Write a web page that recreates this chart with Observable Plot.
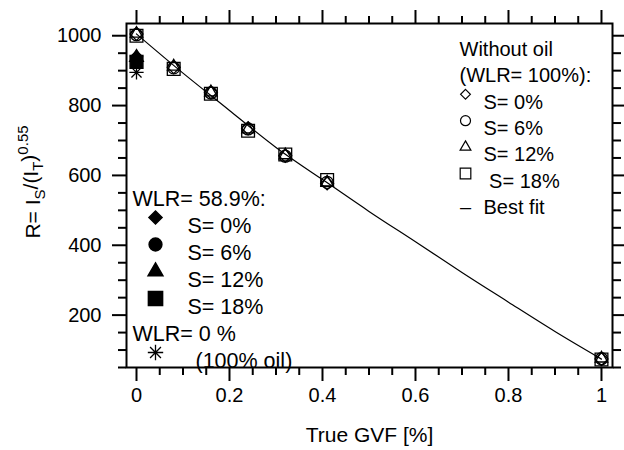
<!DOCTYPE html>
<html><head><meta charset="utf-8">
<script src="https://cdn.jsdelivr.net/npm/d3@7"></script>
<script src="https://cdn.jsdelivr.net/npm/@observablehq/plot@0.6"></script>
<style>
body{margin:0;background:#fff;}
svg{font-family:"Liberation Sans",Arial,sans-serif;}
</style>
</head><body><div id="chart"></div>
<script>
// ---- data ----
const gvf   = [0, 0.08, 0.16, 0.24, 0.32, 0.41, 1];
const rS0   = [1005, 910, 838, 735, 656, 577, 74];   // diamonds
const rS6   = [1003, 908, 836, 733, 655, 580, 75];   // circles
const rS12  = [1006, 912, 838, 732, 658, 580, 76];   // triangles
const rS18  = [1000, 905, 834, 728, 660, 587, 73];   // squares
const wlr589Gvf = [0, 0, 0, 0];
const wlr589R   = [940, 932, 938, 925];              // S=0,6,12,18 %
const oilGvf = [0];
const oilR   = [895];
const fitGvf = [0, 0.1, 0.2, 0.3, 0.4, 0.5, 0.6, 0.7, 0.8, 0.9, 1];
const fitR   = [1005, 893, 786, 680, 588, 497, 410, 322, 237, 153, 74];
const xTicks = [0, 0.2, 0.4, 0.6, 0.8, 1];
const yTicks = [200, 400, 600, 800, 1000];
const xMinor = [0.05,0.1,0.15,0.25,0.3,0.35,0.45,0.5,0.55,0.65,0.7,0.75,0.85,0.9,0.95];
const yMinor = [50,100,150,250,300,350,450,500,550,650,700,750,850,900,950];
const legend1Labels = ["Without oil", "(WLR= 100%):", "S= 0%", "S= 6%", "S= 12%", " S= 18%", "Best fit"];
const legend2Labels = ["WLR= 58.9%:", "S= 0%", "S= 6%", "S= 12%", "S= 18%", "WLR= 0 %", "(100% oil)"];
const xLabel = "True GVF [%]";

// ---- helpers ----
const rows = (xs, ys) => xs.map((x, i) => ({x, y: ys[i]}));
const FS = 20;
const asterisk8 = {
  draw(ctx, size) {
    const r = Math.sqrt(size) * 0.62;
    const d = r * Math.SQRT1_2;
    ctx.moveTo(0, -r); ctx.lineTo(0, r);
    ctx.moveTo(-r, 0); ctx.lineTo(r, 0);
    ctx.moveTo(-d, -d); ctx.lineTo(d, d);
    ctx.moveTo(-d, d); ctx.lineTo(d, -d);
  }
};
const syms = ["diamond2", "circle", "triangle", "square"];
const series = [rS0, rS6, rS12, rS18];
const rData = [5.8, 6.0, 4.6, 7.2];
const rLeg1 = [4.4, 5.0, 4.0, 6.0];
const rLeg2 = [5.9, 6.4, 5.5, 8.0];

const marks = [];
// axes: ticks
const tk = {stroke: "black", strokeWidth: 2, fill: "none", label: null};
marks.push(Plot.axisX(xTicks, {anchor: "bottom", tickSize: 14, ...tk}));
marks.push(Plot.axisX(xMinor, {anchor: "bottom", tickSize: 8, ...tk}));
marks.push(Plot.axisX(xTicks, {anchor: "top", tickSize: 14, ...tk}));
marks.push(Plot.axisX(xMinor, {anchor: "top", tickSize: 8, ...tk}));
marks.push(Plot.axisY(yTicks, {anchor: "left", tickSize: 14, ...tk}));
marks.push(Plot.axisY(yMinor, {anchor: "left", tickSize: 8, ...tk}));
marks.push(Plot.axisY(yTicks, {anchor: "right", tickSize: 12, ...tk}));
marks.push(Plot.axisY(yMinor, {anchor: "right", tickSize: 8, ...tk}));
// axes: labels
marks.push(Plot.axisX(xTicks, {anchor: "bottom", tickSize: 0, tickPadding: 20, fontSize: FS, tickFormat: d => String(d), label: null, fill: "black"}));
marks.push(Plot.axisY(yTicks, {anchor: "left", tickSize: 0, tickPadding: 25, fontSize: FS, tickFormat: d => String(d), label: null, fill: "black"}));
marks.push(Plot.frame({stroke: "black", strokeWidth: 2}));

// best fit
marks.push(Plot.line(rows(fitGvf, fitR), {x: "x", y: "y", stroke: "black", strokeWidth: 1.2, curve: "natural"}));

// without-oil series (open)
series.forEach((s, i) => {
  marks.push(Plot.dot(rows(gvf, s), {x: "x", y: "y", symbol: syms[i], r: rData[i], stroke: "black", strokeWidth: 1.3, fill: "none"}));
});
// WLR 58.9 % (filled)
wlr589R.forEach((v, i) => {
  marks.push(Plot.dot(rows([wlr589Gvf[i]], [v]), {x: "x", y: "y", symbol: syms[i], r: rLeg2[i] * 0.9, fill: "black", stroke: "black"}));
});
// 100 % oil
marks.push(Plot.dot(rows(oilGvf, oilR), {x: "x", y: "y", symbol: asterisk8, r: 6.5, stroke: "black", strokeWidth: 1.3, fill: "none"}));

// legend 1 (top right)
const L1 = {x0: 333, sx: 339, tx: 357, y0: 18, dy: 26.4};
legend1Labels.forEach((t, i) => {
  const isHead = i < 2;
  marks.push(Plot.text([t], {frameAnchor: "top-left", dx: isHead ? L1.x0 : L1.tx, dy: L1.y0 + i * L1.dy, text: d => d, textAnchor: "start", fontSize: FS, fill: "black"}));
});
syms.forEach((s, i) => {
  marks.push(Plot.dot([0], {frameAnchor: "top-left", dx: L1.sx, dy: L1.y0 + (i + 2) * L1.dy, symbol: s, r: rLeg1[i], stroke: "black", strokeWidth: 1.2, fill: "none"}));
});
marks.push(Plot.text(["–"], {frameAnchor: "top-left", dx: L1.sx, dy: L1.y0 + 6 * L1.dy, text: d => d, textAnchor: "middle", fontSize: FS, fill: "black"}));

// legend 2 (bottom left)
const FS2 = 21.5;
const L2 = {x0: 6, sx: 29, tx: 61, y0: 167, dy: 27};
legend2Labels.forEach((t, i) => {
  const head = (i === 0 || i === 5);
  const dxv = head ? L2.x0 : (i === 6 ? 69 : L2.tx);
  marks.push(Plot.text([t], {frameAnchor: "top-left", dx: dxv, dy: L2.y0 + i * L2.dy, text: d => d, textAnchor: "start", fontSize: FS2, fill: "black"}));
});
syms.forEach((s, i) => {
  marks.push(Plot.dot([0], {frameAnchor: "top-left", dx: L2.sx, dy: L2.y0 + (i + 1) * L2.dy, symbol: s, r: rLeg2[i], stroke: "black", fill: "black"}));
});
marks.push(Plot.dot([0], {frameAnchor: "top-left", dx: L2.sx, dy: L2.y0 + 6 * L2.dy, symbol: asterisk8, r: 7, stroke: "black", strokeWidth: 1.3, fill: "none"}));

// x label
marks.push(Plot.text([xLabel], {frameAnchor: "bottom", dy: 74, text: d => d, fontSize: 21, fill: "black"}));

const chart = Plot.plot({
  width: 624, height: 450,
  marginLeft: 126, marginRight: 12, marginTop: 23, marginBottom: 83,
  x: {domain: [-0.0215, 1.0237]},
  y: {domain: [50, 1035]},
  style: {fontFamily: "'Liberation Sans', Arial, sans-serif", color: "black", background: "white"},
  marks
});

// y label with sub/superscripts
const svg = d3.select(chart);
const t = svg.append("text")
  .attr("transform", "translate(40,182) rotate(-90)")
  .attr("text-anchor", "middle")
  .attr("font-size", 21)
  .attr("fill", "black");
t.append("tspan").text("R= I");
t.append("tspan").attr("dy", "0.3em").attr("font-size", 15).text("S");
t.append("tspan").attr("dy", "-0.3em").text("/(I");
t.append("tspan").attr("dy", "0.3em").attr("font-size", 15).text("T");
t.append("tspan").attr("dy", "-0.3em").text(")");
t.append("tspan").attr("dy", "-0.55em").attr("font-size", 15).text("0.55");

document.getElementById("chart").appendChild(chart);
</script>
</body></html>
